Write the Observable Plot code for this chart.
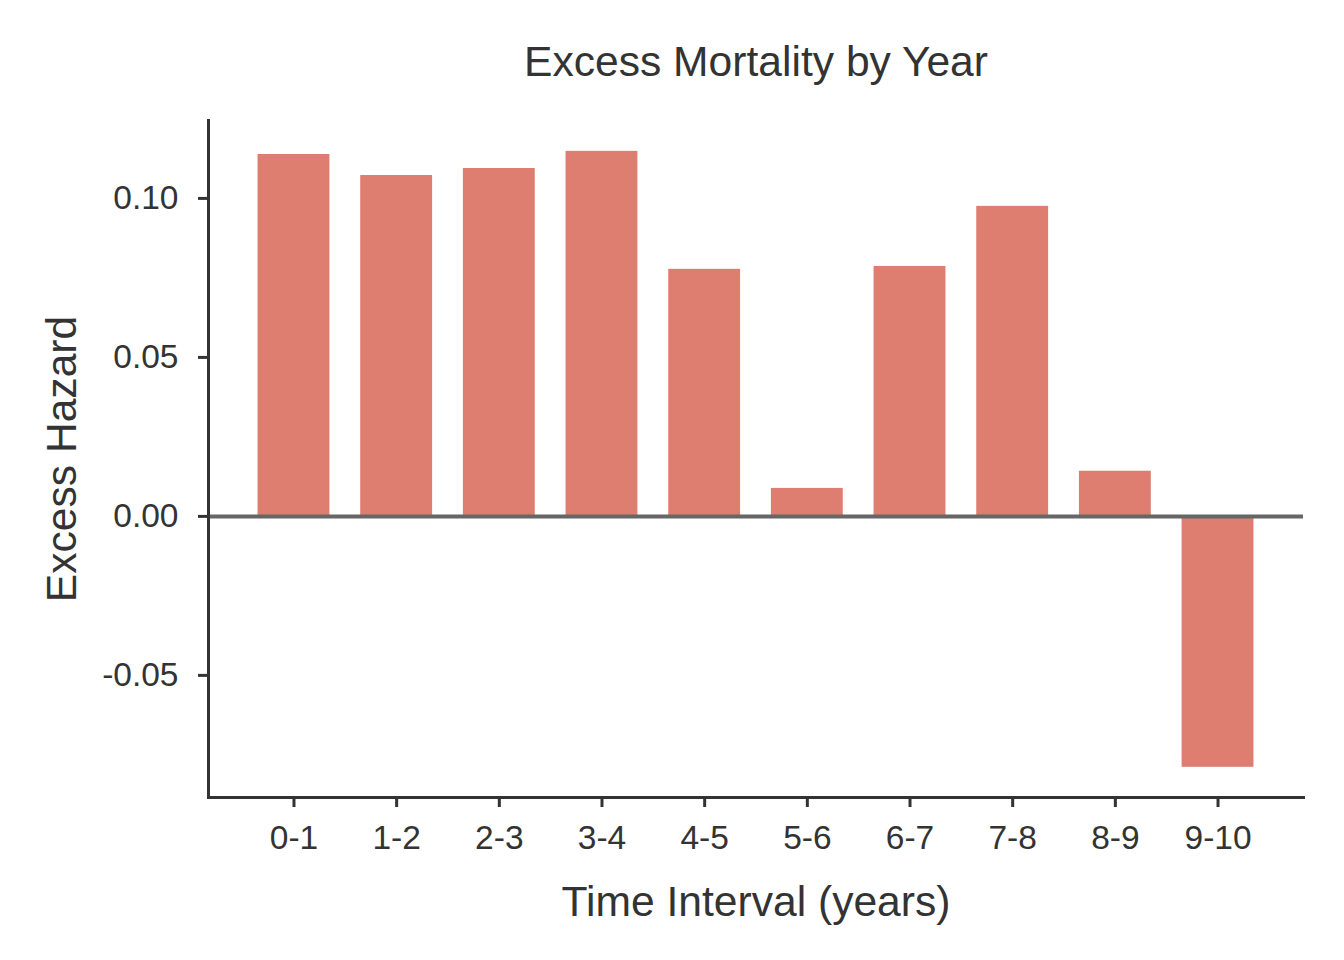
<!DOCTYPE html>
<html>
<head>
<meta charset="utf-8">
<script src="https://cdn.jsdelivr.net/npm/d3@7"></script>
<script src="https://cdn.jsdelivr.net/npm/@observablehq/plot@0.6"></script>
<style>
  html, body { margin: 0; padding: 0; background: #fff; }
  #chart svg { display: block; }
</style>
</head>
<body>
<div id="chart"></div>
<script>
const intervals = ["0-1", "1-2", "2-3", "3-4", "4-5", "5-6", "6-7", "7-8", "8-9", "9-10"];
const excessHazard = [0.1138, 0.1072, 0.1094, 0.1148, 0.0777, 0.0088, 0.0786, 0.0975, 0.0142, -0.0789];
const yTicks = [-0.05, 0, 0.05, 0.10];
const titleText = "Excess Mortality by Year";
const xLabel = "Time Interval (years)";
const yLabel = "Excess Hazard";

const data = intervals.map((k, i) => ({interval: k, value: excessHazard[i]}));
const ink = "#333333";
const font = "'Liberation Sans', Arial, Helvetica, sans-serif";

const chart = Plot.plot({
  width: 1344,
  height: 960,
  marginLeft: 208,
  marginRight: 41,
  marginTop: 120,
  marginBottom: 163,
  style: {fontFamily: font, color: ink, background: "#fff"},
  x: {type: "band", domain: intervals, paddingInner: 0.3, paddingOuter: 0.4825, round: false, label: null},
  y: {domain: [-0.0884, 0.1245], label: null},
  marks: [
    Plot.barY(data, {x: "interval", y: "value", fill: "#dd7e70"}),
    Plot.ruleY([0], {stroke: "#666666", strokeWidth: 4}),
    Plot.frame({anchor: "left", stroke: ink, strokeWidth: 3}),
    Plot.frame({anchor: "bottom", stroke: ink, strokeWidth: 3}),
    Plot.axisY({ticks: yTicks, tickFormat: d => d.toFixed(2), tickSize: 10, tickPadding: 20,
      stroke: ink, strokeWidth: 3, fill: ink, fontSize: 33.5, label: null}),
    Plot.axisX({tickSize: 10, tickPadding: 18, stroke: ink, strokeWidth: 3, fill: ink, fontSize: 33.5, label: null}),
    Plot.text([titleText], {frameAnchor: "top", dy: -45, lineAnchor: "bottom", fontSize: 42.6, fill: ink}),
    Plot.text([xLabel], {frameAnchor: "bottom", dy: 118, lineAnchor: "bottom", fontSize: 42.6, fill: ink}),
    Plot.text([yLabel], {frameAnchor: "left", dx: -133, rotate: -90, textAnchor: "middle", lineAnchor: "bottom", fontSize: 42.6, fill: ink})
  ]
});
document.getElementById("chart").append(chart);
</script>
</body>
</html>
